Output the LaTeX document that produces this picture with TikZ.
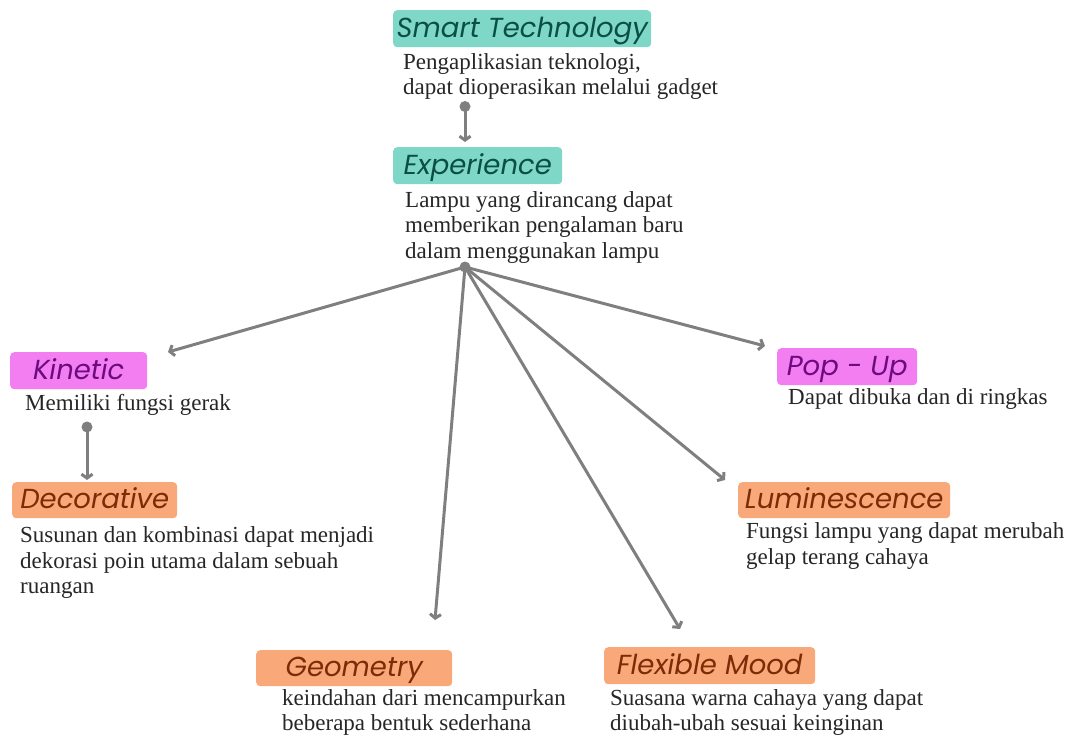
\documentclass[tikz,border=0pt]{standalone}
\usepackage{fontspec}
\setmainfont{Liberation Serif}
\newfontfamily\headfont{Poppins}
\usetikzlibrary{arrows.meta}

\definecolor{tealfill}{HTML}{7FD8C7}
\definecolor{tealtext}{HTML}{0A4F45}
\definecolor{magfill}{HTML}{F27EF2}
\definecolor{magtext}{HTML}{6E0A80}
\definecolor{orfill}{HTML}{F9A979}
\definecolor{ortext}{HTML}{7B2C06}
\definecolor{linec}{HTML}{7F7F7F}
\definecolor{desctext}{HTML}{262626}

\begin{document}
\begin{tikzpicture}[x=1pt,y=-1pt,
  head/.style={anchor=north west, rounded corners=4pt, inner sep=0pt,
    text height=24pt, text depth=7pt,
    font=\headfont\itshape\fontsize{27.5}{30}\selectfont},
  tealbox/.style={head, fill=tealfill, text=tealtext},
  magbox/.style={head, fill=magfill, text=magtext},
  orbox/.style={head, fill=orfill, text=ortext},
  desc/.style={anchor=north west, inner sep=0pt, align=left, text=desctext,
    font=\fontsize{23}{25.5}\selectfont},
  conn/.style={draw=linec, line width=3pt,
    -{Straight Barb[length=4pt,width=11pt]}},
  hubdot/.style={fill=linec}]
\useasboundingbox (0,0) rectangle (1076,739);

% headings
\node[tealbox, minimum width=258, minimum height=37] (st) at (393,10) {Smart Technology};
\node[tealbox, minimum width=169, minimum height=37] (ex) at (393,147) {Experience};
\node[magbox, minimum width=137, minimum height=37] (ki) at (10,352) {Kinetic};
\node[orbox, minimum width=165, minimum height=36] (de) at (12,482) {Decorative};
\node[magbox, minimum width=140, minimum height=37] (pu) at (777,348) {Pop - Up};
\node[orbox, minimum width=212, minimum height=36] (lu) at (738,482) {Luminescence};
\node[orbox, minimum width=196, minimum height=36] (ge) at (256,650) {Geometry};
\node[orbox, minimum width=211, minimum height=37] (fm) at (604,647) {Flexible Mood};

% descriptions
\node[desc] (std) at (403,53) {Pengaplikasian teknologi,\\dapat dioperasikan melalui gadget};
\node[desc] (exd) at (405,191) {Lampu yang dirancang dapat\\memberikan pengalaman baru\\dalam menggunakan lampu};
\node[desc] (kid) at (25,394.5) {Memiliki fungsi gerak};
\node[desc] (ded) at (20,526.5) {Susunan dan kombinasi dapat menjadi\\dekorasi poin utama dalam sebuah\\ruangan};
\node[desc] (pud) at (788,388.5) {Dapat dibuka dan di ringkas};
\node[desc] (lud) at (746,522.5) {Fungsi lampu yang dapat merubah\\gelap terang cahaya};
\node[desc] (ged) at (282,689) {keindahan dari mencampurkan\\beberapa bentuk sederhana};
\node[desc] (fmd) at (610,689) {Suasana warna cahaya yang dapat\\diubah-ubah sesuai keinginan};

% connector end points
\coordinate (stdot) at (465,106.5);
\coordinate (extip) at (465,142);
\coordinate (hub) at (465,267);
\coordinate (kitip) at (168,352);
\coordinate (getip) at (435,620);
\coordinate (fmtip) at (680,629);
\coordinate (lutip) at (725,480);
\coordinate (putip) at (765,346);
\coordinate (kidot) at (87,427);
\coordinate (detip) at (87,480);

% connectors
\draw[conn] (stdot) -- (extip);
\draw[conn] (kidot) -- (detip);
\foreach \t in {kitip,getip,fmtip,lutip,putip}
  \draw[conn] (hub) -- (\t);
\fill[hubdot] (stdot) circle (5.5);
\fill[hubdot] (kidot) circle (5.5);
\fill[hubdot] (hub) circle (5.5);
\end{tikzpicture}
\end{document}
